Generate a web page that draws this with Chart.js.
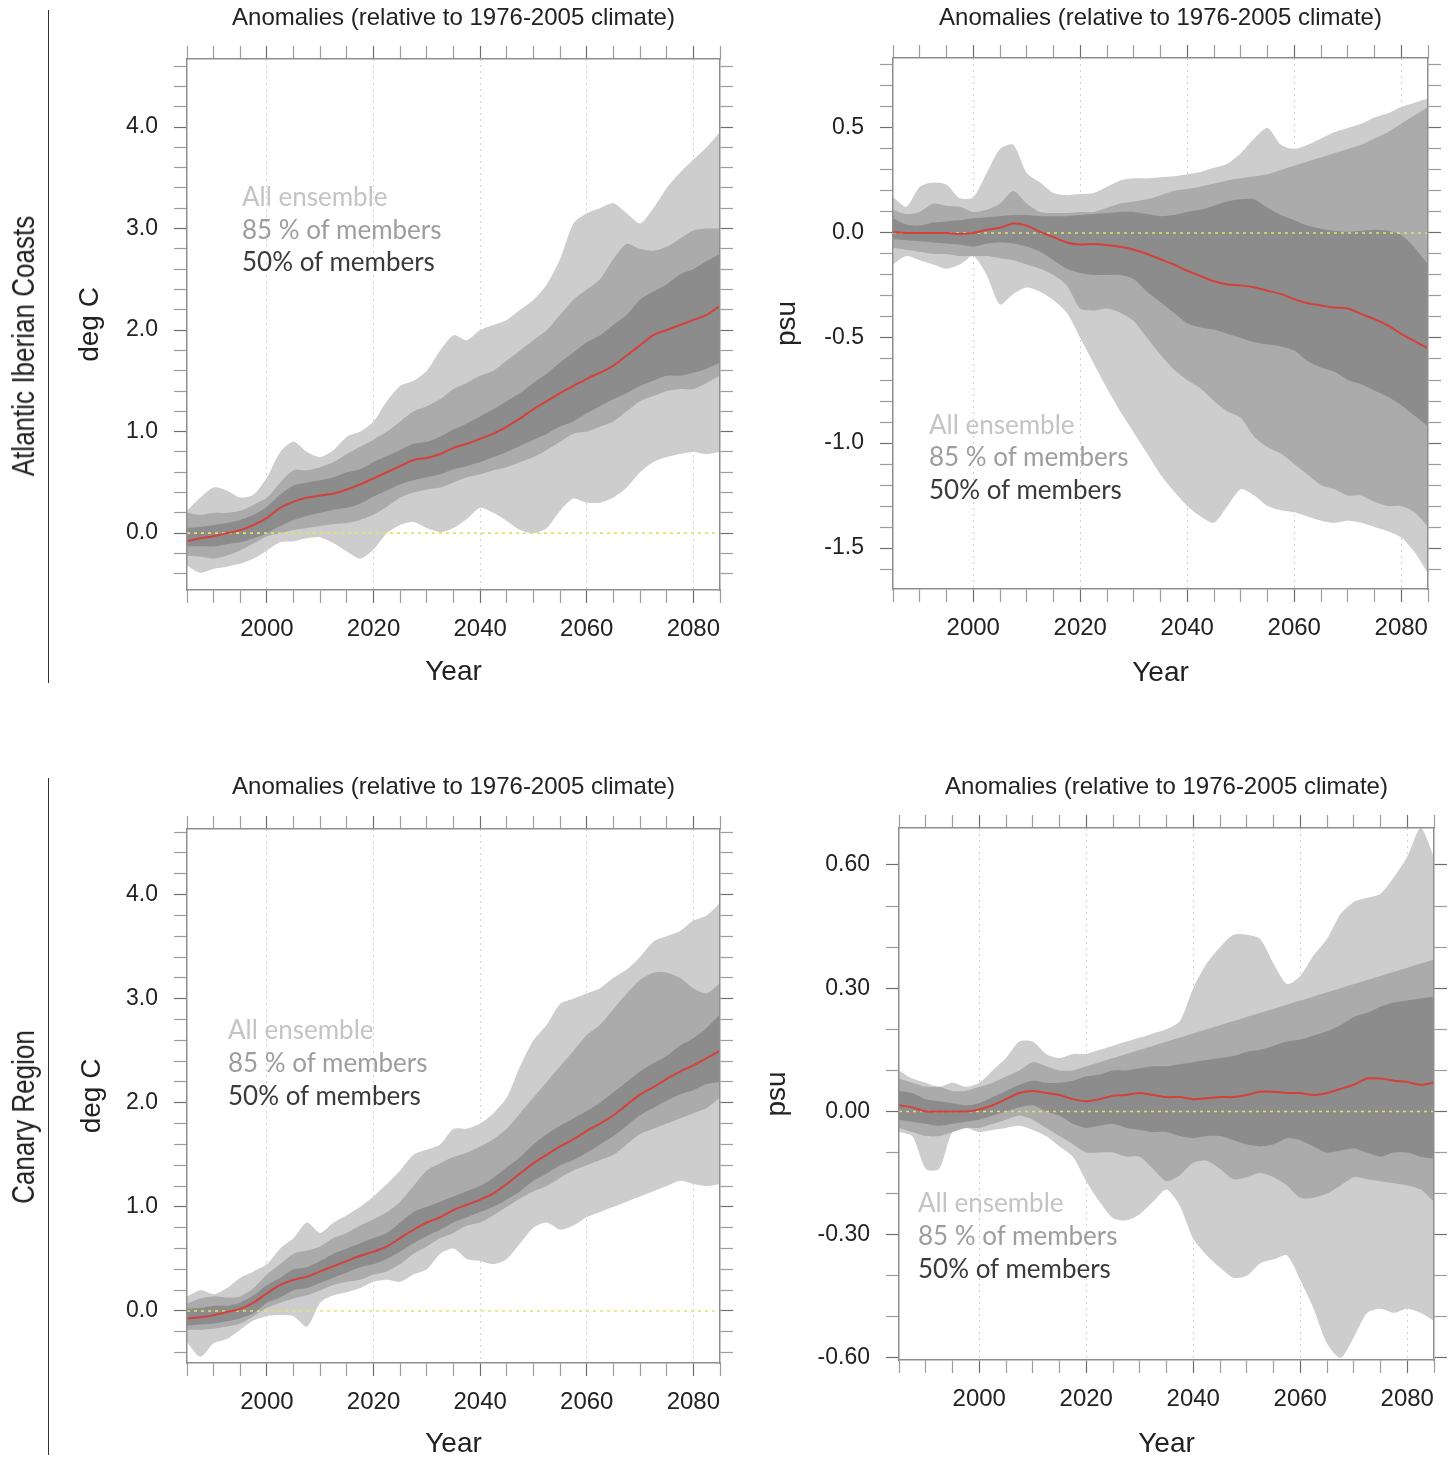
<!DOCTYPE html>
<html>
<head>
<meta charset="utf-8">
<script src="https://cdn.jsdelivr.net/npm/chart.js@4.4.1/dist/chart.umd.min.js"></script>
<style>
  html, body { margin: 0; padding: 0; background: #fff; }
  #page { position: relative; width: 1456px; height: 1461px; overflow: hidden; background: #fff; }
  canvas { position: absolute; left: 0; top: 0; }
  .key { position: absolute; font-family: Lato, "Open Sans", sans-serif; font-size: 26px; line-height: 32px; white-space: nowrap; }
  .row { position: absolute; font-family: "Liberation Sans Narrow", "Arial Narrow", "Liberation Sans", sans-serif; font-size: 31px; line-height: 36px; white-space: nowrap; color: #222; transform: translate(-50%, -50%) rotate(-90deg) scaleX(0.84); }
  .rule { position: absolute; left: 48px; width: 1px; background: #333; }
</style>
</head>
<body>
<div id="page">
  <canvas id="tl" width="1456" height="1461"></canvas>
  <canvas id="tr" width="1456" height="1461"></canvas>
  <canvas id="bl" width="1456" height="1461"></canvas>
  <canvas id="br" width="1456" height="1461"></canvas>

  <div class="rule" style="top:10px;height:673px"></div>
  <div class="rule" style="top:778px;height:677px"></div>
  <div class="row" style="left:24px;top:346px">Atlantic Iberian Coasts</div>
  <div class="row" style="left:24px;top:1117px">Canary Region</div>
</div>
<script>
// ---- data (2.5-year spacing) ----
const years = [1985,1987.5,1990,1992.5,1995,1997.5,2000,2002.5,2005,2007.5,2010,2012.5,2015,2017.5,2020,2022.5,2025,2027.5,2030,2032.5,2035,2037.5,2040,2042.5,2045,2047.5,2050,2052.5,2055,2057.5,2060,2062.5,2065,2067.5,2070,2072.5,2075,2077.5,2080,2082.5,2085];

// Atlantic Iberian Coasts, temperature (deg C)
const tlMean  = [-0.08,-0.05,-0.03,0.0,0.03,0.08,0.15,0.25,0.31,0.35,0.37,0.39,0.43,0.48,0.54,0.60,0.66,0.72,0.74,0.78,0.84,0.88,0.93,0.98,1.05,1.13,1.22,1.30,1.38,1.45,1.52,1.58,1.65,1.75,1.85,1.95,2.00,2.05,2.10,2.15,2.24];
const tl50Hi  = [0.05,0.06,0.08,0.10,0.13,0.18,0.26,0.38,0.47,0.50,0.52,0.55,0.60,0.63,0.70,0.76,0.82,0.88,0.90,0.95,1.02,1.08,1.15,1.22,1.30,1.38,1.48,1.57,1.68,1.78,1.88,1.95,2.05,2.15,2.30,2.38,2.45,2.55,2.60,2.68,2.75];
const tl50Lo  = [-0.13,-0.13,-0.13,-0.11,-0.09,-0.05,0.00,0.07,0.13,0.17,0.20,0.23,0.25,0.29,0.36,0.42,0.48,0.52,0.55,0.58,0.63,0.66,0.70,0.75,0.80,0.86,0.92,0.98,1.05,1.10,1.18,1.25,1.32,1.38,1.45,1.50,1.55,1.55,1.58,1.62,1.68];
const tl85Hi  = [0.20,0.18,0.20,0.20,0.22,0.28,0.35,0.50,0.62,0.62,0.65,0.70,0.78,0.85,0.92,1.00,1.10,1.20,1.25,1.32,1.42,1.48,1.55,1.60,1.70,1.80,1.90,2.00,2.15,2.30,2.40,2.50,2.70,2.85,2.80,2.78,2.82,2.90,2.98,3.00,3.00];
const tl85Lo  = [-0.22,-0.23,-0.25,-0.22,-0.17,-0.10,-0.03,0.00,0.03,0.05,0.07,0.09,0.10,0.13,0.18,0.26,0.35,0.40,0.43,0.45,0.50,0.55,0.58,0.62,0.65,0.70,0.75,0.82,0.90,0.98,1.00,1.05,1.10,1.20,1.30,1.35,1.40,1.42,1.42,1.48,1.55];
const tlAllHi = [0.22,0.35,0.45,0.42,0.35,0.38,0.55,0.80,0.90,0.80,0.75,0.82,0.95,1.00,1.10,1.30,1.45,1.50,1.60,1.80,1.95,1.90,2.00,2.05,2.10,2.20,2.30,2.45,2.70,3.05,3.15,3.20,3.25,3.15,3.05,3.20,3.40,3.55,3.68,3.80,3.95];
const tlAllLo = [-0.32,-0.39,-0.35,-0.33,-0.30,-0.25,-0.17,-0.09,-0.08,-0.05,-0.04,-0.10,-0.18,-0.25,-0.16,0.00,0.08,0.11,0.05,0.01,0.05,0.14,0.25,0.20,0.12,0.03,0.00,0.05,0.22,0.34,0.30,0.30,0.35,0.45,0.60,0.70,0.75,0.78,0.80,0.78,0.80];

// Atlantic Iberian Coasts, salinity (psu)
const trMean  = [0.005,0.0,0.0,0.0,0.0,-0.005,0.0,0.015,0.025,0.045,0.035,0.005,-0.02,-0.045,-0.055,-0.052,-0.058,-0.066,-0.08,-0.10,-0.125,-0.15,-0.18,-0.205,-0.23,-0.245,-0.25,-0.258,-0.275,-0.29,-0.315,-0.335,-0.345,-0.355,-0.36,-0.385,-0.41,-0.44,-0.48,-0.515,-0.55];
const tr50Hi  = [0.07,0.04,0.035,0.05,0.055,0.06,0.07,0.075,0.08,0.085,0.085,0.08,0.08,0.08,0.085,0.09,0.095,0.10,0.10,0.09,0.08,0.085,0.10,0.11,0.13,0.15,0.16,0.16,0.12,0.085,0.06,0.035,0.02,0.01,0.005,0.01,0.015,0.01,-0.01,-0.07,-0.15];
const tr50Lo  = [-0.03,-0.035,-0.04,-0.045,-0.05,-0.055,-0.065,-0.05,-0.045,-0.05,-0.065,-0.09,-0.13,-0.17,-0.19,-0.20,-0.20,-0.20,-0.22,-0.28,-0.33,-0.38,-0.43,-0.45,-0.46,-0.48,-0.50,-0.52,-0.53,-0.54,-0.56,-0.61,-0.64,-0.66,-0.70,-0.72,-0.75,-0.78,-0.82,-0.87,-0.92];
const tr85Hi  = [0.11,0.09,0.10,0.14,0.13,0.125,0.10,0.11,0.14,0.20,0.14,0.10,0.095,0.095,0.10,0.10,0.12,0.14,0.15,0.16,0.18,0.20,0.21,0.22,0.235,0.25,0.26,0.27,0.28,0.30,0.32,0.34,0.36,0.38,0.40,0.42,0.45,0.48,0.52,0.56,0.60];
const tr85Lo  = [-0.07,-0.08,-0.09,-0.10,-0.10,-0.11,-0.11,-0.11,-0.12,-0.13,-0.15,-0.17,-0.20,-0.25,-0.36,-0.37,-0.36,-0.38,-0.42,-0.50,-0.58,-0.65,-0.70,-0.74,-0.80,-0.85,-0.88,-0.97,-1.02,-1.05,-1.10,-1.15,-1.20,-1.22,-1.25,-1.25,-1.28,-1.30,-1.30,-1.33,-1.40];
const trAllHi = [0.17,0.125,0.22,0.24,0.23,0.165,0.17,0.285,0.40,0.42,0.285,0.24,0.19,0.18,0.185,0.19,0.22,0.25,0.26,0.26,0.265,0.27,0.28,0.29,0.31,0.33,0.38,0.45,0.50,0.42,0.40,0.42,0.45,0.48,0.50,0.52,0.55,0.57,0.60,0.62,0.64];
const trAllLo = [-0.15,-0.11,-0.13,-0.15,-0.17,-0.15,-0.11,-0.20,-0.34,-0.29,-0.26,-0.28,-0.32,-0.38,-0.50,-0.62,-0.74,-0.85,-0.95,-1.05,-1.15,-1.23,-1.30,-1.35,-1.38,-1.30,-1.22,-1.25,-1.30,-1.32,-1.33,-1.35,-1.37,-1.38,-1.37,-1.38,-1.40,-1.42,-1.45,-1.52,-1.62];

// Canary Region, temperature (deg C)
const blMean  = [-0.07,-0.06,-0.04,-0.01,0.02,0.08,0.17,0.25,0.30,0.33,0.38,0.43,0.48,0.53,0.57,0.62,0.70,0.78,0.85,0.90,0.97,1.02,1.07,1.13,1.22,1.32,1.42,1.50,1.58,1.65,1.73,1.80,1.88,1.98,2.08,2.15,2.23,2.30,2.36,2.43,2.50];
const bl50Hi  = [0.02,0.03,0.05,0.05,0.08,0.15,0.25,0.32,0.40,0.42,0.48,0.55,0.60,0.65,0.70,0.75,0.85,0.95,1.00,1.05,1.10,1.15,1.20,1.28,1.38,1.48,1.60,1.70,1.78,1.85,1.92,2.00,2.10,2.20,2.30,2.38,2.45,2.55,2.62,2.72,2.85];
const bl50Lo  = [-0.14,-0.13,-0.12,-0.10,-0.07,-0.02,0.08,0.13,0.20,0.22,0.27,0.32,0.37,0.42,0.45,0.50,0.57,0.65,0.72,0.78,0.85,0.90,0.95,1.00,1.07,1.15,1.25,1.32,1.40,1.45,1.52,1.60,1.68,1.78,1.88,1.95,2.02,2.08,2.12,2.18,2.20];
const bl85Hi  = [0.07,0.12,0.14,0.13,0.14,0.22,0.35,0.45,0.55,0.58,0.62,0.70,0.75,0.82,0.88,0.95,1.05,1.20,1.35,1.42,1.48,1.52,1.58,1.65,1.75,1.90,2.05,2.20,2.35,2.50,2.65,2.75,2.90,3.05,3.18,3.25,3.25,3.20,3.10,3.05,3.15];
const bl85Lo  = [-0.18,-0.18,-0.17,-0.15,-0.12,-0.05,0.03,0.08,0.12,0.15,0.20,0.25,0.28,0.30,0.35,0.38,0.45,0.55,0.62,0.70,0.75,0.82,0.85,0.92,1.00,1.08,1.15,1.20,1.28,1.35,1.40,1.45,1.50,1.60,1.70,1.75,1.80,1.85,1.90,1.95,2.05];
const blAllHi = [0.14,0.20,0.16,0.22,0.32,0.38,0.45,0.60,0.70,0.85,0.75,0.85,0.92,1.00,1.10,1.22,1.35,1.50,1.55,1.60,1.75,1.75,1.80,1.90,2.05,2.35,2.60,2.75,2.95,3.00,3.05,3.10,3.20,3.28,3.40,3.55,3.60,3.65,3.75,3.80,3.92];
const blAllLo = [-0.30,-0.44,-0.31,-0.27,-0.18,-0.09,-0.05,-0.04,-0.05,-0.15,0.08,0.15,0.18,0.22,0.28,0.30,0.28,0.35,0.40,0.55,0.60,0.50,0.48,0.45,0.50,0.65,0.80,0.85,0.78,0.82,0.90,0.95,1.00,1.05,1.10,1.15,1.20,1.25,1.22,1.20,1.22];

// Canary Region, salinity (psu)
const brMean  = [0.015,0.01,0.0,0.0,0.0,0.0,0.005,0.015,0.03,0.045,0.05,0.045,0.04,0.03,0.025,0.03,0.038,0.04,0.045,0.04,0.035,0.035,0.03,0.032,0.035,0.035,0.04,0.048,0.048,0.045,0.045,0.04,0.045,0.055,0.065,0.08,0.08,0.075,0.072,0.065,0.07];
const br50Hi  = [0.05,0.045,0.03,0.025,0.02,0.015,0.02,0.035,0.05,0.065,0.075,0.07,0.07,0.075,0.085,0.09,0.10,0.10,0.105,0.11,0.11,0.115,0.12,0.125,0.13,0.135,0.145,0.15,0.16,0.17,0.175,0.185,0.195,0.21,0.23,0.24,0.255,0.265,0.27,0.275,0.28];
const br50Lo  = [-0.02,-0.025,-0.03,-0.035,-0.03,-0.025,-0.02,-0.01,0.0,0.01,0.015,0.0,-0.01,-0.03,-0.04,-0.035,-0.03,-0.04,-0.045,-0.05,-0.05,-0.06,-0.065,-0.06,-0.06,-0.07,-0.08,-0.085,-0.08,-0.065,-0.07,-0.085,-0.10,-0.095,-0.09,-0.10,-0.11,-0.10,-0.10,-0.11,-0.115];
const br85Hi  = [0.08,0.07,0.06,0.06,0.05,0.05,0.06,0.07,0.085,0.10,0.12,0.11,0.10,0.10,0.11,0.12,0.13,0.14,0.15,0.16,0.17,0.18,0.19,0.20,0.21,0.22,0.23,0.24,0.25,0.26,0.27,0.28,0.29,0.30,0.31,0.32,0.33,0.34,0.35,0.36,0.37];
const br85Lo  = [-0.04,-0.05,-0.06,-0.06,-0.05,-0.04,-0.04,-0.03,-0.02,-0.01,-0.02,-0.04,-0.06,-0.08,-0.10,-0.10,-0.10,-0.11,-0.11,-0.14,-0.17,-0.155,-0.125,-0.12,-0.14,-0.165,-0.16,-0.15,-0.16,-0.18,-0.21,-0.21,-0.20,-0.18,-0.16,-0.165,-0.17,-0.175,-0.18,-0.19,-0.22];
const brAllHi = [0.10,0.08,0.07,0.06,0.07,0.06,0.07,0.10,0.13,0.17,0.17,0.14,0.13,0.14,0.14,0.15,0.16,0.17,0.18,0.19,0.20,0.22,0.30,0.36,0.40,0.43,0.43,0.42,0.36,0.31,0.33,0.38,0.42,0.48,0.51,0.52,0.53,0.57,0.62,0.69,0.62];
const brAllLo = [-0.05,-0.06,-0.14,-0.14,-0.05,-0.04,-0.05,-0.045,-0.04,-0.035,-0.045,-0.06,-0.085,-0.11,-0.17,-0.22,-0.26,-0.265,-0.25,-0.22,-0.19,-0.23,-0.31,-0.35,-0.38,-0.405,-0.40,-0.37,-0.36,-0.35,-0.41,-0.48,-0.565,-0.60,-0.55,-0.49,-0.48,-0.49,-0.48,-0.49,-0.51];

// ---- ticks and labels ----
const xTicks = [1985,1990,1995,2000,2005,2010,2015,2020,2025,2030,2035,2040,2045,2050,2055,2060,2065,2070,2075,2080,2085];
const xLabelVals = [2000,2020,2040,2060,2080];

const tempTicks = [-0.4,-0.2,0,0.2,0.4,0.6,0.8,1,1.2,1.4,1.6,1.8,2,2.2,2.4,2.6,2.8,3,3.2,3.4,3.6,3.8,4,4.2,4.4,4.6];
const tempLabelVals = [0,1,2,3,4];
const tempLabelText = ['0.0','1.0','2.0','3.0','4.0'];

const salTicks = [-1.6,-1.5,-1.4,-1.3,-1.2,-1.1,-1,-0.9,-0.8,-0.7,-0.6,-0.5,-0.4,-0.3,-0.2,-0.1,0,0.1,0.2,0.3,0.4,0.5,0.6,0.7,0.8];
const salLabelVals = [-1.5,-1,-0.5,0,0.5];
const salLabelText = ['-1.5','-1.0','-0.5','0.0','0.5'];

const canSalTicks = [-0.6,-0.5,-0.4,-0.3,-0.2,-0.1,0,0.1,0.2,0.3,0.4,0.5,0.6];
const canSalLabelVals = [-0.6,-0.3,0,0.3,0.6];
const canSalLabelText = ['-0.60','-0.30','0.00','0.30','0.60'];

const legendText = ['All ensemble', '85 % of members', '50% of members'];
const titleText = 'Anomalies (relative to 1976-2005 climate)';

// ---- styles ----
const LIGHT = '#cdcdcd', MID = '#ababab', DARK = '#8c8c8c';
const MEAN_COL = '#d6403a', ZERO_COL = '#e2e26a';
const FRAME = '#8e8e8e', TICK_MAJ = '#6e6e6e', TICK_MIN = '#9c9c9c', GRID = '#d2d2d2';
const TXT = '#222';
const FAM = "'Liberation Sans', Arial, Helvetica, sans-serif";
const PAGE_W = 1456, PAGE_H = 1461;
const LEGEND_COLS = ['#c4c4c4', '#9d9d9d', '#3a3a3a'];

function addLegend(left, centers) {
  const page = document.getElementById('page');
  legendText.forEach((t, i) => {
    const d = document.createElement('div');
    d.className = 'key';
    d.textContent = t;
    d.style.left = left + 'px';
    d.style.top = (centers[i] - 16) + 'px';
    d.style.color = LEGEND_COLS[i];
    page.appendChild(d);
  });
}

function makePanel(p) {
  const pts = arr => years.map((x, i) => ({ x: x, y: arr[i] }));
  const band = (arr, col, fillNext) => ({
    data: pts(arr), borderWidth: 0, pointRadius: 0, tension: 0.25,
    backgroundColor: col, borderColor: col, fill: fillNext ? '+1' : false
  });
  const s = p.series;

  // layout: fixed axis box sizes so the plot frame lands where it should
  const padLeft = p.yTitleX - 16.8;
  const padTop = p.titleY - 18;
  const xH = (p.xTitleY + 16.8) - p.area.bottom;
  const pad = {
    left: padLeft,
    right: PAGE_W - p.area.right - 20,
    top: padTop,
    bottom: Math.max(0, PAGE_H - p.area.bottom - xH)
  };
  const isMajX = c => c.tick && xLabelVals.includes(c.tick.value);
  const isMajY = c => c.tick && p.yLabelVals.includes(c.tick.value);
  const border = { display: true, color: FRAME, width: 1.5, z: 1 };

  new Chart(document.getElementById(p.id), {
    type: 'line',
    data: {
      datasets: [
        { data: pts(s.mean), borderColor: MEAN_COL, borderWidth: 2, pointRadius: 0, fill: false, tension: 0.3 },
        { data: years.map(x => ({ x: x, y: 0 })), borderColor: ZERO_COL, borderWidth: 1.6, borderDash: [3, 4], pointRadius: 0, fill: false },
        band(s.hi50, DARK, true), band(s.lo50, DARK, false),
        band(s.hi85, MID, true), band(s.lo85, MID, false),
        band(s.hiAll, LIGHT, true), band(s.loAll, LIGHT, false)
      ]
    },
    options: {
      responsive: false,
      animation: false,
      events: [],
      layout: { padding: pad },
      plugins: { legend: { display: false }, tooltip: { enabled: false } },
      scales: {
        x: {
          type: 'linear', position: 'bottom', min: 1985, max: 2085,
          afterBuildTicks: sc => { sc.ticks = xTicks.map(v => ({ value: v })); },
          afterFit: sc => { sc.height = xH; },
          ticks: {
            autoSkip: false, maxRotation: 0, padding: 12, color: TXT,
            font: { family: FAM, size: 24 },
            callback: v => xLabelVals.includes(v) ? String(v) : ''
          },
          grid: {
            drawOnChartArea: true, tickLength: 13, tickWidth: 1.2,
            color: c => isMajX(c) ? GRID : 'rgba(0,0,0,0)',
            tickColor: c => isMajX(c) ? TICK_MAJ : TICK_MIN
          },
          border: Object.assign({ dash: [2, 4] }, border),
          title: { display: true, text: 'Year', color: TXT, padding: 0, font: { family: FAM, size: 28 } }
        },
        xTop: {
          type: 'linear', position: 'top', min: 1985, max: 2085,
          afterBuildTicks: sc => { sc.ticks = xTicks.map(v => ({ value: v })); },
          afterFit: sc => { sc.height = p.area.top - padTop; },
          ticks: { display: false, autoSkip: false },
          grid: {
            drawOnChartArea: false, tickLength: 13, tickWidth: 1.2,
            tickColor: c => isMajX(c) ? TICK_MAJ : TICK_MIN
          },
          border: border,
          title: { display: true, text: titleText, color: TXT, padding: { top: 3.6, bottom: 0 }, font: { family: FAM, size: 24 } }
        },
        y: {
          type: 'linear', position: 'left', min: p.yMin, max: p.yMax,
          afterBuildTicks: sc => { sc.ticks = p.yTicks.map(v => ({ value: v })); },
          afterFit: sc => { sc.width = p.area.left - padLeft; },
          ticks: {
            autoSkip: false, padding: 16, color: TXT,
            font: { family: FAM, size: 23 },
            callback: v => { const i = p.yLabelVals.indexOf(v); return i >= 0 ? p.yLabelText[i] : ''; }
          },
          grid: {
            drawOnChartArea: false, tickLength: 13, tickWidth: 1.2,
            tickColor: c => isMajY(c) ? TICK_MAJ : TICK_MIN
          },
          border: border,
          title: { display: true, text: p.yTitle, color: TXT, padding: 0, font: { family: FAM, size: 28 } }
        },
        yRight: {
          type: 'linear', position: 'right', min: p.yMin, max: p.yMax,
          afterBuildTicks: sc => { sc.ticks = p.yTicks.map(v => ({ value: v })); },
          afterFit: sc => { sc.width = 20; },
          ticks: { display: false, autoSkip: false },
          grid: {
            drawOnChartArea: false, tickLength: 13, tickWidth: 1.2,
            tickColor: c => isMajY(c) ? TICK_MAJ : TICK_MIN
          },
          border: border
        }
      }
    }
  });
}

makePanel({
  id: 'tl', area: { left: 187, right: 720, top: 59, bottom: 590 },
  yMin: -0.56, yMax: 4.67, yTicks: tempTicks, yLabelVals: tempLabelVals, yLabelText: tempLabelText,
  yTitle: 'deg C', yTitleX: 90, titleY: 18, xTitleY: 672,
  series: { mean: tlMean, hi50: tl50Hi, lo50: tl50Lo, hi85: tl85Hi, lo85: tl85Lo, hiAll: tlAllHi, loAll: tlAllLo }
});
makePanel({
  id: 'tr', area: { left: 893, right: 1428, top: 58, bottom: 589 },
  yMin: -1.695, yMax: 0.833, yTicks: salTicks, yLabelVals: salLabelVals, yLabelText: salLabelText,
  yTitle: 'psu', yTitleX: 787, titleY: 18, xTitleY: 673,
  series: { mean: trMean, hi50: tr50Hi, lo50: tr50Lo, hi85: tr85Hi, lo85: tr85Lo, hiAll: trAllHi, loAll: trAllLo }
});
makePanel({
  id: 'bl', area: { left: 187, right: 720, top: 829, bottom: 1363 },
  yMin: -0.5, yMax: 4.63, yTicks: tempTicks, yLabelVals: tempLabelVals, yLabelText: tempLabelText,
  yTitle: 'deg C', yTitleX: 92, titleY: 787, xTitleY: 1444,
  series: { mean: blMean, hi50: bl50Hi, lo50: bl50Lo, hi85: bl85Hi, lo85: bl85Lo, hiAll: blAllHi, loAll: blAllLo }
});
makePanel({
  id: 'br', area: { left: 899, right: 1434, top: 828, bottom: 1360 },
  yMin: -0.605, yMax: 0.69, yTicks: canSalTicks, yLabelVals: canSalLabelVals, yLabelText: canSalLabelText,
  yTitle: 'psu', yTitleX: 777, titleY: 787, xTitleY: 1444,
  series: { mean: brMean, hi50: br50Hi, lo50: br50Lo, hi85: br85Hi, lo85: br85Lo, hiAll: brAllHi, loAll: brAllLo }
});

addLegend(242, [196, 229, 261]);
addLegend(929, [424, 456, 489]);
addLegend(228, [1029, 1062, 1095]);
addLegend(918, [1202, 1235, 1268]);
</script>
</body>
</html>
